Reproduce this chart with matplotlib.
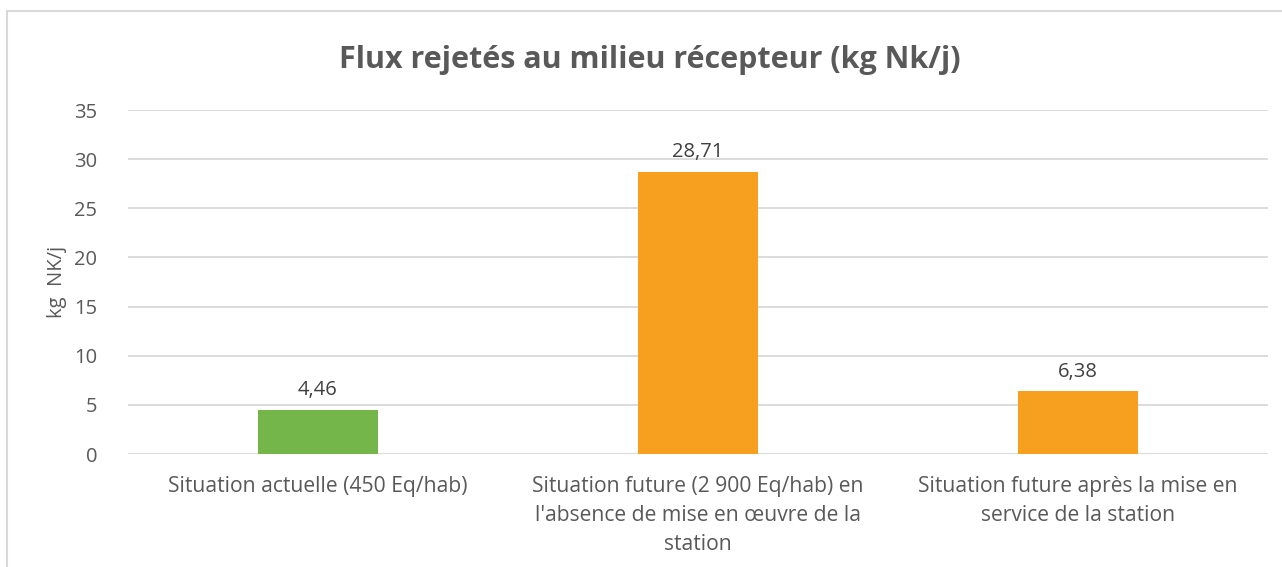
import matplotlib
matplotlib.use("Agg")
import matplotlib.pyplot as plt
from matplotlib.patches import Rectangle

categories = [
    "Situation actuelle (450 Eq/hab)",
    "Situation future (2 900 Eq/hab) en\nl'absence de mise en œuvre de la\nstation",
    "Situation future après la mise en\nservice de la station",
]
values = [4.46, 28.71, 6.38]
value_labels = ["4,46", "28,71", "6,38"]
colors = ["#74B64A", "#F7A01F", "#F7A01F"]
yticks = [0, 5, 10, 15, 20, 25, 30, 35]

plt.rcParams['font.family'] = ['Open Sans', 'DejaVu Sans']
txt = "#595959"
fs = 14.5

fig = plt.figure(figsize=(12.82, 5.67), dpi=100)
fig.patches.append(Rectangle((7/1282, -0.1), 1.2, 1 - 11/567 + 0.1, transform=fig.transFigure,
                             fill=False, edgecolor="#D9D9D9", linewidth=1.5))
ax = fig.add_axes([128/1282, 1 - 454/567, (1268 - 128)/1282, (454 - 110)/567])

x = range(len(categories))
ax.bar(x, values, width=0.316, color=colors, zorder=3)
for xi, v, lab in zip(x, values, value_labels):
    ax.annotate(lab, (xi, v), xytext=(0, 7), textcoords="offset points",
                ha="center", va="bottom", fontsize=fs, color="#404040")

ax.set_xlim(-0.5, 2.5)
ax.set_ylim(0, 35)
ax.set_yticks(yticks)
ax.set_yticklabels([str(t) for t in yticks], fontsize=fs, color=txt)
ax.set_xticks(list(x))
ax.set_xticklabels(categories, fontsize=15.2, color=txt, linespacing=1.5, va="top")
ax.tick_params(axis="both", length=0)
ax.tick_params(axis="x", pad=16)
ax.tick_params(axis="y", pad=22)
ax.grid(axis="y", color="#D9D9D9", linewidth=1.3, zorder=0)
for s in ax.spines.values():
    s.set_visible(False)
ax.set_ylabel("kg  NK/j", fontsize=fs, color=txt, labelpad=5)

fig.text(650/1282, 1 - 60/567, "Flux rejetés au milieu récepteur (kg Nk/j)",
         ha="center", va="center", fontsize=22, fontweight="bold", color=txt)

fig.savefig("out.png", dpi=100, facecolor="white")
